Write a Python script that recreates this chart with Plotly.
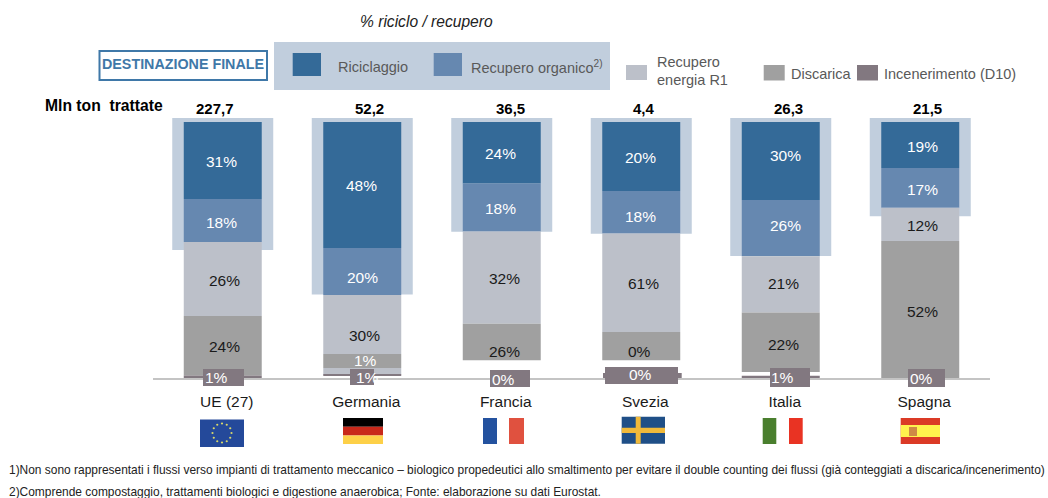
import math
import plotly.graph_objects as go

W, H = 1048, 498

# ---------- data ----------
paesi = ["UE (27)", "Germania", "Francia", "Svezia", "Italia", "Spagna"]
totali = ["227,7", "52,2", "36,5", "4,4", "26,3", "21,5"]

# segment heights as drawn in the picture (% of the column height)
riciclaggio = [30.1, 49.2, 24.0, 27.0, 30.5, 18.0]
organico = [16.8, 18.4, 18.8, 16.6, 21.9, 15.5]
energia = [28.9, 23.0, 36.0, 38.4, 22.0, 13.0]
discarica = [23.2, 5.5, 14.3, 11.1, 23.3, 53.5]
energia_extra = [0, 2.5, 0, 0, 0, 0]
vuoto = [0, 0, 0, 0, 1.4, 0]
incenerimento = [1.0, 0.6, 0, 0, 1.1, 0]
alone = [51.6, 68.9, 44.4, 45.2, 53.9, 38.4]

# printed labels
lab_ric = ["31%", "48%", "24%", "20%", "30%", "19%"]
lab_org = ["18%", "20%", "18%", "18%", "26%", "17%"]
lab_ene = ["26%", "30%", "32%", "61%", "21%", "12%"]
lab_dis = ["24%", "1%", "26%", "0%", "22%", "52%"]
lab_inc = ["1%", "1%", "0%", "0%", "1%", "0%"]

# ---------- style ----------
FONT = "Liberation Sans"
C_RIC, C_ORG, C_ENE, C_DIS, C_INC = "#346a98", "#6688b0", "#bcc0c9", "#a0a0a0", "#827880"
C_HALO = "#c1cedd"
C_LEG = "#595959"
BAR_W, HALO_W = 0.559, 0.724

# label offsets from segment centre (px, + = right / down)
dx_ric = [-1, -1, -1.6, -1, 4.3, 1.8]
dy_ric = [1, 1, 0.5, 1, -5.3, 1.7]
dx_org = [-1, 0, -1.6, -0.3, 4.7, 1.8]
dy_org = [2, 6, 1.5, 4, -3, 2]
dx_ene = [2, 2.3, 2.4, 2, 3, 1.8]
dy_ene = [1, 10.5, 1, 0.7, -0.7, 1.6]
dx_dis = [2, 3.3, 2.4, -2, 3, 2.5]
dy_dis = [1, 0, 9.7, 5.7, 2, 1.5]
dx_inc = [-6, 5, 1.4, -1, 2, 1.5]
dy_inc = [-1, -1, 1, -4, -1, 0]
dx_tot = [-8, 7.5, 8.5, 3, 8, 7.5]
# incinerator tag boxes (x0, x1, y0, y1 in px)
box_inc = [(203, 244, 369, 386), (350, 374, 369, 385), (490, 530, 370, 387),
           (605, 678, 367, 384), (770, 810, 368, 387), (908, 945, 369, 387)]


def px(x):
    return x / W


def py(y):
    return 1 - y / H


fig = go.Figure()

# halo behind the recycling part
fig.add_bar(x=paesi, y=alone, base=[-1.5625] * 6, width=HALO_W,
            marker=dict(color=C_HALO, line_width=0, opacity=1), name="Alone")

stack = [("Riciclaggio", riciclaggio, C_RIC), ("Recupero organico", organico, C_ORG),
         ("Recupero energia R1", energia, C_ENE), ("Discarica", discarica, C_DIS),
         ("Recupero energia R1 (2)", energia_extra, C_ENE),
         ("Vuoto", vuoto, "rgba(0,0,0,0)"), ("Incenerimento (D10)", incenerimento, C_INC)]
base = [0.0] * 6
bases = {}
for name, vals, col in stack:
    bases[name] = list(base)
    fig.add_bar(x=paesi, y=vals, base=list(base), width=BAR_W, name=name,
                marker=dict(color=col, line_width=0, opacity=1))
    base = [b + v for b, v in zip(base, vals)]

ann = []
shapes = []


def text(x, y, s, size=14.5, color=C_LEG, anchor="center", **kw):
    ann.append(dict(xref="paper", yref="paper", x=px(x), y=py(y), text=s, showarrow=False,
                    xanchor=anchor, yanchor="middle", font=dict(family=FONT, size=size, color=color),
                    borderpad=0, **kw))


def rect(x0, x1, y0, y1, color, line=None, layer="above"):
    shapes.append(dict(type="rect", xref="paper", yref="paper", x0=px(x0), x1=px(x1), y0=py(y0), y1=py(y1),
                       fillcolor=color, line=dict(width=line[1], color=line[0]) if line else dict(width=0),
                       layer=layer))


# segment labels, anchored on the segments
for name, vals, labs, dxs, dys, colr in [
    ("Riciclaggio", riciclaggio, lab_ric, dx_ric, dy_ric, ["#ffffff"] * 6),
    ("Recupero organico", organico, lab_org, dx_org, dy_org, ["#ffffff"] * 6),
    ("Recupero energia R1", energia, lab_ene, dx_ene, dy_ene, ["#1a1a1a"] * 6),
    ("Discarica", discarica, lab_dis, dx_dis, dy_dis,
     ["#1a1a1a", "#ffffff", "#1a1a1a", "#1a1a1a", "#1a1a1a", "#1a1a1a"]),
]:
    for i, p in enumerate(paesi):
        ann.append(dict(x=p, y=bases[name][i] + vals[i] / 2, text=labs[i], showarrow=False,
                        xshift=dxs[i], yshift=-dys[i], xanchor="center", yanchor="middle",
                        font=dict(family=FONT, size=15.5, color=colr[i])))

# incinerator tags
for i, p in enumerate(paesi):
    x0, x1, y0, y1 = box_inc[i]
    rect(x0, x1, y0, y1, C_INC)
    ann.append(dict(x=p, y=100, text=lab_inc[i], showarrow=False, xshift=dx_inc[i], yshift=-dy_inc[i],
                    xanchor="center", yanchor="middle", font=dict(family=FONT, size=15.5, color="#ffffff")))
rect(603, 681.7, 373, 378, C_INC)

# totals
for i, p in enumerate(paesi):
    ann.append(dict(x=p, y=-1.5625, text="<b>%s</b>" % totali[i], showarrow=False, xshift=dx_tot[i], yshift=-1,
                    xanchor="center", yanchor="bottom", font=dict(family=FONT, size=15, color="#000000")))

# header
text(426, 22, "<i>% riciclo / recupero</i>", size=15.6, color="#222222")
rect(99.5, 267, 51, 80, "#ffffff", ("#3f78a8", 2))
text(183, 63.5, "<b>DESTINAZIONE FINALE</b>", size=14.3, color="#3f78a8")
text(44, 106, "<b>Mln ton\u00a0\u00a0trattate</b>", size=15.7, color="#000000", anchor="left")

# legend
rect(274, 610, 42, 90, C_HALO, layer="below")
rect(292.7, 321, 53, 76, C_RIC)
rect(433.7, 462, 53, 76, C_ORG)
rect(626, 647, 65, 80, C_ENE)
rect(763.7, 784.7, 65, 80.5, C_DIS)
rect(857, 878, 65, 80.5, C_INC)
text(337, 67, "Riciclaggio", anchor="left")
text(470, 67, "Recupero organico<sup>2)</sup>", anchor="left")
text(656, 62, "Recupero", anchor="left")
text(656, 80, "energia R1", anchor="left")
text(790, 74, "Discarica", anchor="left")
text(883, 74, "Incenerimento (D10)", anchor="left")

# footnotes
text(8, 470, "1)Non sono rappresentati i flussi verso impianti di trattamento meccanico – biologico propedeutici "
             "allo smaltimento per evitare il double counting dei flussi (già conteggiati a discarica/incenerimento)",
     size=11.95, color="#222222", anchor="left")
text(8, 492, "2)Comprende compostaggio, trattamenti biologici e digestione anaerobica; "
             "Fonte: elaborazione su dati Eurostat.", size=11.95, color="#222222", anchor="left")

# flags
rect(200, 244, 419.5, 447, "#24499a")
for k in range(12):
    a = k * math.pi / 6
    cx, cy = 222 + 9.5 * math.cos(a), 433 + 9.5 * math.sin(a)
    shapes.append(dict(type="circle", xref="paper", yref="paper", x0=px(cx - 1.1), x1=px(cx + 1.1),
                       y0=py(cy - 1.1), y1=py(cy + 1.1), fillcolor="#d9d96a", line=dict(width=0)))
rect(343, 383, 418, 426.7, "#000000")
rect(343, 383, 426.7, 435.5, "#c8281a")
rect(343, 383, 435.5, 444, "#fdd048")
rect(483, 497, 418, 444, "#24529f")
rect(509, 524, 418, 444, "#e0513f")
rect(621.7, 665, 416.7, 443.7, "#1f4f87")
rect(635.7, 640.7, 416.7, 443.7, "#f0b93a")
rect(621.7, 665, 427.7, 433, "#f0b93a")
rect(762.7, 776.3, 418, 444, "#4a7f2e")
rect(789, 802.7, 418, 444, "#e93323")
rect(900.7, 940, 418, 444, "#db3a26")
rect(900.7, 940, 425, 437, "#fff24d")
rect(909, 917, 427, 436, "#cf8a45")

fig.update_layout(
    width=W, height=H, margin=dict(l=0, r=0, t=0, b=0), barmode="overlay", showlegend=False,
    paper_bgcolor="#ffffff", plot_bgcolor="#ffffff", annotations=ann, shapes=shapes,
    font=dict(family=FONT),
    xaxis=dict(domain=[153 / W, 990 / W], type="category", categoryorder="array", categoryarray=paesi,
               range=[-0.5, 5.5], showgrid=False, zeroline=False, showline=True, linecolor="#c4c4c4", linewidth=2,
               ticks="", tickfont=dict(family=FONT, size=15.5, color="#1a1a1a"), ticklabelstandoff=8,
               ticklabelshift=4),
    yaxis=dict(domain=[(H - 378) / H, (H - 118) / H], range=[100, -1.5625], visible=False),
)
fig.write_html("out.html", config=dict(displayModeBar=False),
               post_script="document.body.style.margin='0';document.body.style.overflow='hidden';")
